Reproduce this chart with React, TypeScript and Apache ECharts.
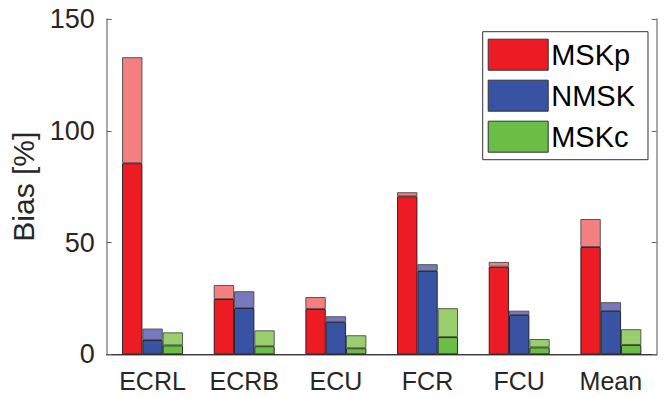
import React, { useEffect, useRef } from "react";
import * as echarts from "echarts";

const categories = ["ECRL", "ECRB", "ECU", "FCR", "FCU", "Mean"];
const yTicks = [0, 50, 100, 150];
const mskpLower = [85.5, 24.7, 20.3, 70.7, 39.2, 48.0];
const mskpTotal = [132.9, 31.0, 25.6, 72.5, 41.3, 60.5];
const nmskLower = [6.4, 20.7, 14.5, 37.3, 17.6, 19.4];
const nmskTotal = [11.5, 28.2, 17.0, 40.3, 19.5, 23.3];
const mskcLower = [4.0, 3.6, 2.7, 7.7, 3.1, 4.2];
const mskcTotal = [9.8, 10.7, 8.5, 20.6, 6.8, 11.2];

const FONT = "'Liberation Sans', Arial, Helvetica, sans-serif";

export default function App() {
  const ref = useRef<HTMLDivElement>(null);
  useEffect(() => {
    if (!ref.current) return;
    const chart = echarts.init(ref.current, undefined, { renderer: "svg" });
    const groups = [
      { name: "MSKp", lower: mskpLower, total: mskpTotal, dark: "#ED1C24", light: "#F37F81" },
      { name: "NMSK", lower: nmskLower, total: nmskTotal, dark: "#3953A4", light: "#7779BE" },
      { name: "MSKc", lower: mskcLower, total: mskcTotal, dark: "#6ABD45", light: "#9ACF6E" },
    ];
    const series: any[] = [];
    groups.forEach((g) => {
      series.push({
        name: g.name,
        type: "bar",
        stack: g.name,
        barWidth: 20.3,
        barGap: "0%",
        data: g.lower,
        itemStyle: { color: g.dark, borderColor: "#1a1a1a", borderWidth: 0.9 },
      });
      series.push({
        name: g.name + " extra",
        type: "bar",
        stack: g.name,
        barWidth: 20.3,
        barGap: "0%",
        data: g.total.map((t, i) => +(t - g.lower[i]).toFixed(2)),
        itemStyle: { color: g.light, borderColor: "#4a4a4a", borderWidth: 0.9 },
      });
    });
    const yMax = yTicks[yTicks.length - 1];
    chart.setOption({
      animation: false,
      textStyle: { fontFamily: FONT },
      grid: { left: 106.7, top: 19, right: 13.3, bottom: 43.7 },
      legend: {
        data: groups.map((g) => g.name),
        orient: "vertical",
        left: 482.7,
        top: 31.7,
        padding: [7, 13, 7, 5],
        itemGap: 9,
        itemWidth: 60,
        itemHeight: 31,
        icon: "rect",
        selectedMode: false,
        backgroundColor: "#fff",
        borderColor: "#333",
        borderWidth: 1,
        borderRadius: 0,
        itemStyle: { borderColor: "#333", borderWidth: 1 },
        textStyle: { fontSize: 29, color: "#000", fontFamily: FONT, padding: [0, 0, 0, -2] },
      },
      xAxis: [
        {
          type: "category",
          data: categories,
          position: "bottom",
          axisLine: { lineStyle: { color: "#8c8c8c", width: 1.5 } },
          axisTick: { inside: true, alignWithLabel: true, length: 5, lineStyle: { color: "#333" } },
          axisLabel: { fontSize: 25, color: "#262626", margin: 14, fontFamily: FONT },
        },
        {
          type: "category",
          data: categories,
          position: "top",
          axisLine: { lineStyle: { color: "#3a3a3a", width: 1 } },
          axisTick: { inside: true, alignWithLabel: true, length: 5, lineStyle: { color: "#333" } },
          axisLabel: { show: false },
        },
      ],
      yAxis: [
        {
          type: "value",
          min: 0,
          max: yMax,
          interval: 50,
          position: "left",
          name: "Bias [%]",
          nameLocation: "middle",
          nameRotate: 90,
          nameGap: 60,
          nameTextStyle: { fontSize: 30, color: "#262626", fontFamily: FONT },
          axisLine: { show: true, lineStyle: { color: "#8c8c8c", width: 1.5 } },
          axisTick: { show: true, inside: true, length: 5, lineStyle: { color: "#666" } },
          axisLabel: { fontSize: 27, color: "#262626", margin: 12, fontFamily: FONT },
          splitLine: { show: false },
        },
        {
          type: "value",
          min: 0,
          max: yMax,
          interval: 50,
          position: "right",
          axisLine: { show: true, lineStyle: { color: "#8c8c8c", width: 1.5 } },
          axisTick: { show: true, inside: true, length: 5, lineStyle: { color: "#666" } },
          axisLabel: { show: false },
          splitLine: { show: false },
        },
      ],
      series,
    });
    return () => chart.dispose();
  }, []);
  return (
    <div
      ref={ref}
      style={{ position: "fixed", left: 0, top: 0, width: 670, height: 398, background: "#fff" }}
    />
  );
}
